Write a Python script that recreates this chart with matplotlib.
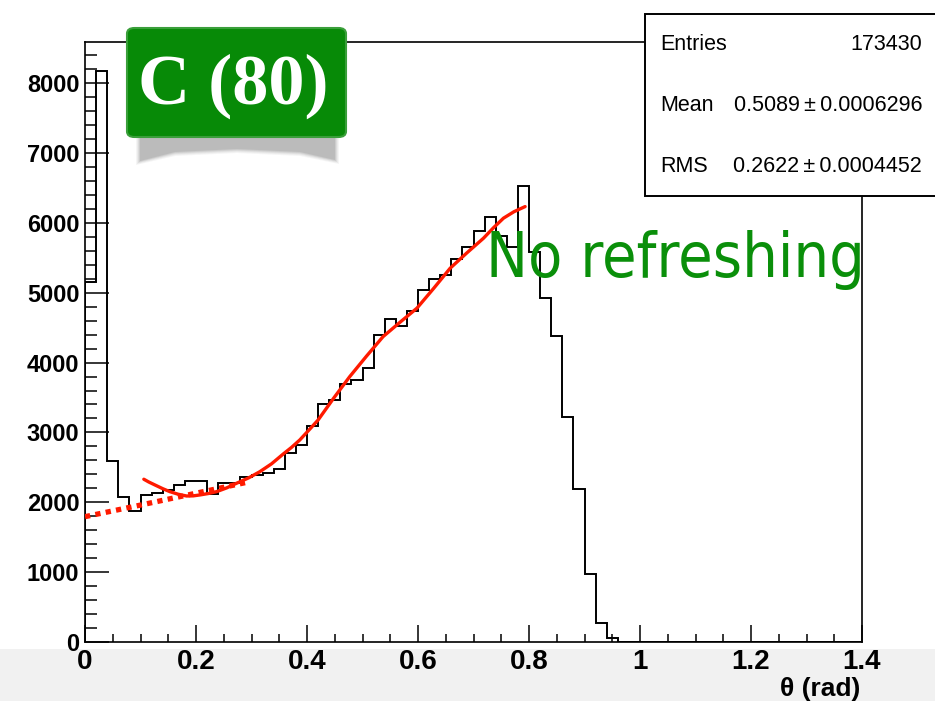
import matplotlib
matplotlib.use('Agg')
import matplotlib.pyplot as plt
from matplotlib.patches import FancyBboxPatch, Rectangle, Polygon
from matplotlib.ticker import MultipleLocator, FixedLocator

# ---------------- data ----------------
bin_width = 0.02
counts = [5150, 8180, 2596, 2072, 1880, 2105, 2138, 2170, 2250, 2310,
          2310, 2120, 2280, 2280, 2360, 2390, 2415, 2470, 2700, 2820,
          3090, 3405, 3470, 3694, 3751, 3919, 4396, 4620, 4530, 4739,
          5040, 5198, 5255, 5484, 5660, 5890, 6090, 5815, 5660, 6529,
          5589, 4921, 4386, 3226, 2186, 969, 267, 53, 0, 0,
          0, 0, 0, 0, 0, 0, 0, 0, 0, 0,
          0, 0, 0, 0, 0, 0, 0, 0, 0, 0]
edges = [i * bin_width for i in range(len(counts) + 1)]

fit_x = [0.106, 0.115, 0.126, 0.140, 0.153, 0.168, 0.183, 0.195, 0.207,
         0.222, 0.237, 0.255, 0.273, 0.295, 0.315, 0.336, 0.357, 0.372,
         0.387, 0.403, 0.420, 0.448, 0.477, 0.507, 0.537, 0.568, 0.598,
         0.628, 0.658, 0.688, 0.718, 0.736, 0.754, 0.773, 0.793]
fit_y = [2330, 2290, 2248, 2195, 2152, 2115, 2090, 2092, 2105,
         2125, 2152, 2205, 2272, 2350, 2438, 2550, 2690, 2785,
         2892, 3030, 3178, 3490, 3799, 4090, 4371, 4580, 4778,
         5060, 5351, 5570, 5780, 5930, 6067, 6160, 6233]

extrap_x = [0.0, 0.10, 0.20, 0.297]
extrap_y = [1794, 1960, 2130, 2295]

x_ticks = [0, 0.2, 0.4, 0.6, 0.8, 1.0, 1.2, 1.4]
x_ticklabels = ['0', '0.2', '0.4', '0.6', '0.8', '1', '1.2', '1.4']
y_ticks = [0, 1000, 2000, 3000, 4000, 5000, 6000, 7000, 8000]
y_ticklabels = ['0', '1000', '2000', '3000', '4000', '5000', '6000', '7000', '8000']

stats_labels = ['Entries', 'Mean', 'RMS']
stats_values = ['173430', '0.5089\u2009±\u20090.0006296', '0.2622\u2009±\u20090.0004452']

x_title = 'θ (rad)'
badge_text = 'C (80)'
note_text = 'No refreshing'

# ---------------- figure ----------------
W, H = 935, 701
fig = plt.figure(figsize=(W / 100, H / 100), dpi=100)
fig.patch.set_facecolor('white')

def fx(px):
    return px / W

def fy(py):
    return 1 - py / H

NARROW = ['Liberation Sans Narrow', 'Liberation Sans', 'DejaVu Sans']
SANS = ['Liberation Sans', 'DejaVu Sans']

# light grey strip at bottom
fig.patches.append(Rectangle((0, 0), 1, fy(649), transform=fig.transFigure,
                             facecolor='#f1f1f1', edgecolor='none', zorder=0))

ax = fig.add_axes([fx(85), fy(642), fx(862) - fx(85), fy(42) - fy(642)])
ax.set_zorder(2)
ax.set_facecolor('white')
ax.set_xlim(0, 1.4)
ax.set_ylim(0, max(counts) * 1.05)

ax.stairs(counts, edges, color='black', linewidth=1.4, baseline=0, zorder=3)

ax.plot(extrap_x, extrap_y, color='#ff1a00', linewidth=3.8,
        linestyle=(0, (1.0, 1.0)), solid_capstyle='butt', zorder=4)
ax.plot(fit_x, fit_y, color='#ff1a00', linewidth=2.4, zorder=5,
        solid_capstyle='round', solid_joinstyle='round')

for s in ax.spines.values():
    s.set_linewidth(1.2)
    s.set_color('black')

ax.xaxis.set_major_locator(FixedLocator(x_ticks))
ax.xaxis.set_minor_locator(MultipleLocator(0.05))
ax.yaxis.set_major_locator(FixedLocator(y_ticks))
ax.yaxis.set_minor_locator(MultipleLocator(200))
ax.set_xticklabels(x_ticklabels)
ax.set_yticklabels(y_ticklabels)

ax.tick_params(axis='x', which='major', direction='in', length=12, width=1.1,
               pad=5, labelsize=20)
ax.tick_params(axis='x', which='minor', direction='in', length=5.5, width=1.1)
ax.tick_params(axis='y', which='major', direction='in', length=17, width=1.1,
               pad=4, labelsize=17)
ax.tick_params(axis='y', which='minor', direction='in', length=8.5, width=1.1)
for lab in ax.get_xticklabels():
    lab.set_fontfamily(NARROW)
    lab.set_fontweight('bold')
for lab in ax.get_yticklabels():
    lab.set_fontfamily(SANS)
    lab.set_fontweight('bold')

fig.text(fx(860), fy(689), x_title, ha='right', va='center', fontsize=19,
         fontweight='bold', family=NARROW, zorder=3)

# green note
fig.text(fx(486), fy(260), note_text, ha='left', va='center', fontsize=45,
         color='#0a8f0a', family=['DejaVu Sans'], fontstretch='condensed',
         zorder=6)

# stats box
fig.patches.append(Rectangle((fx(645), fy(196)), fx(300), fy(14) - fy(196),
                             transform=fig.transFigure, facecolor='white',
                             edgecolor='black', linewidth=1.4, zorder=10))
for i, (lab, val) in enumerate(zip(stats_labels, stats_values)):
    yy = fy(45 + i * 60.5)
    fig.text(fx(660), yy, lab, ha='left', va='center', fontsize=15.5,
             family=SANS, zorder=11)
    fig.text(fx(922), yy, val, ha='right', va='center', fontsize=15.5,
             family=SANS, zorder=11)

# badge shadow (ribbon-like, soft)
for k, a in enumerate([0.05, 0.06, 0.08, 0.10, 0.12]):
    d = 4 - k
    pts = [(fx(140 - d), fy(132)), (fx(335 + d), fy(132)),
           (fx(335 + d), fy(160 + d)), (fx(300), fy(152 + d)),
           (fx(237), fy(149 + d)), (fx(175), fy(152 + d)),
           (fx(140 - d), fy(161 + d))]
    fig.patches.append(Polygon(pts, closed=True, transform=fig.transFigure,
                               facecolor='#444444', edgecolor='none',
                               alpha=a, zorder=8))

fig.patches.append(FancyBboxPatch((fx(127), fy(137)), fx(346) - fx(127),
                                  fy(28) - fy(137),
                                  boxstyle='round,pad=0,rounding_size=0.008',
                                  transform=fig.transFigure,
                                  facecolor='#078a07', edgecolor='#3a9f3a',
                                  linewidth=1.5, zorder=9))
fig.text(fx(233), fy(86), badge_text, ha='center', va='center', fontsize=52,
         color='white', fontweight='bold',
         family=['Liberation Serif', 'DejaVu Serif'], zorder=12)

fig.savefig('out.png', dpi=100, facecolor=fig.get_facecolor())
